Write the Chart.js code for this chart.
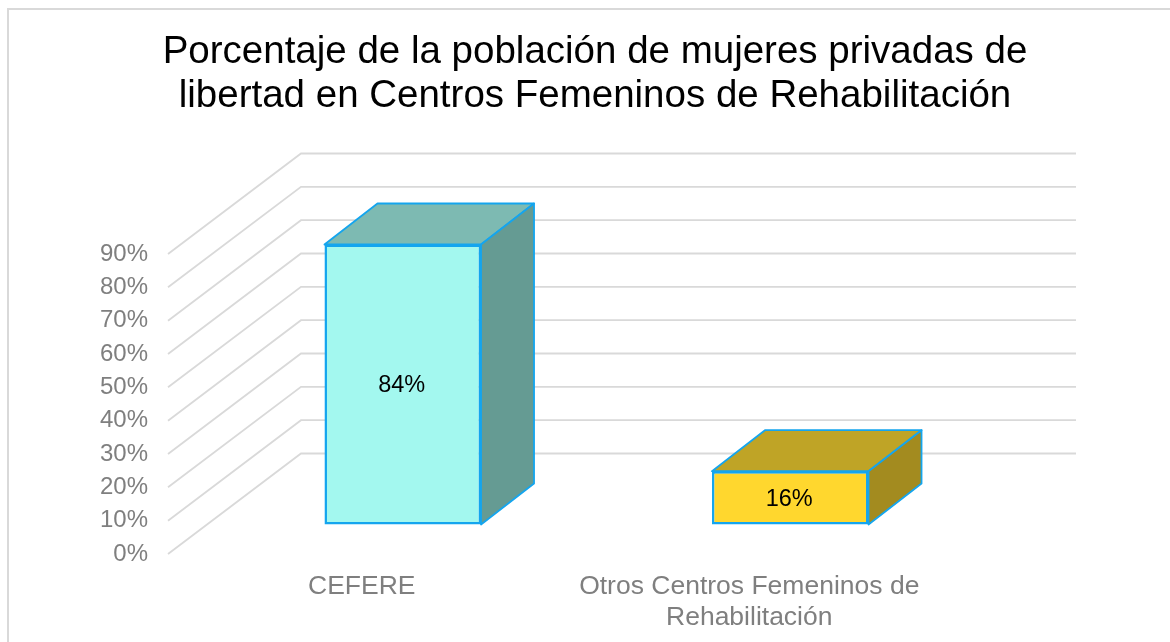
<!DOCTYPE html>
<html>
<head>
<meta charset="utf-8">
<title>Porcentaje de la población de mujeres privadas de libertad</title>
<script src="https://cdn.jsdelivr.net/npm/chart.js@4/dist/chart.umd.min.js"></script>
<style>
    html, body { margin: 0; padding: 0; background: #ffffff; overflow: hidden; }
    canvas { display: block; }
</style>
</head>
<body>
<canvas id="chart" width="1170" height="642"></canvas>
<script>
const titleLines = ["Porcentaje de la población de mujeres privadas de", "libertad en Centros Femeninos de Rehabilitación"];
const categories = ["CEFERE", ["Otros Centros Femeninos de", "Rehabilitación"]];
const values = [84, 16];
const frontColors = ["#A3F8EF", "#FFD72E"];
const topColors = ["#7DBAB2", "#BFA426"];
const sideColors = ["#659B93", "#A38B1F"];

const FONT = "'Liberation Sans', Arial, sans-serif";
const GRID = "#D9D9D9";
const EDGE = "#14A5EE";
const WALL_DX = 133;
const WALL_DY = 100.5;
const WALL_RIGHT = 1076;
const BAR_DX = 41;
const BAR_DY = 29.5;
const DEPTH_DX = 53;
const DEPTH_DY = 41;

function fillFace(ctx, points, color) {
    ctx.beginPath();
    ctx.moveTo(points[0][0], points[0][1]);
    points.slice(1).forEach(p => ctx.lineTo(p[0], p[1]));
    ctx.closePath();
    ctx.fillStyle = color;
    ctx.fill();
    ctx.strokeStyle = EDGE;
    ctx.lineWidth = 1.8;
    ctx.lineJoin = "round";
    ctx.stroke();
}

const box3d = {
    id: "box3d",
    afterLayout(chart) {
        // the title sits a bit right of the canvas centre
        chart.titleBlock.left = 20;
        chart.titleBlock.right = 1170;
    },
    beforeDraw(chart) {
        const ctx = chart.ctx;
        ctx.save();
        ctx.strokeStyle = "#D9D9D9";
        ctx.lineWidth = 2;
        ctx.beginPath();
        ctx.moveTo(8, 642);
        ctx.lineTo(8, 9);
        ctx.lineTo(1170, 9);
        ctx.stroke();
        ctx.restore();
    },
    beforeDatasetsDraw(chart) {
        const ctx = chart.ctx;
        const yScale = chart.scales.y;
        const left = chart.chartArea.left;
        ctx.save();
        ctx.strokeStyle = GRID;
        ctx.lineWidth = 1.8;
        yScale.ticks.forEach(t => {
            const y = yScale.getPixelForValue(t.value);
            ctx.beginPath();
            ctx.moveTo(left, y);
            ctx.lineTo(left + WALL_DX, y - WALL_DY);
            ctx.lineTo(WALL_RIGHT, y - WALL_DY);
            ctx.stroke();
        });
        ctx.restore();
    },
    beforeDatasetDraw(chart) {
        chart.ctx.save();
        chart.ctx.translate(BAR_DX, -BAR_DY);
    },
    afterDatasetDraw(chart, args) {
        const ctx = chart.ctx;
        args.meta.data.forEach((bar, i) => {
            const l = bar.x - bar.width / 2;
            const r = bar.x + bar.width / 2;
            fillFace(ctx, [[l, bar.y], [l + DEPTH_DX, bar.y - DEPTH_DY], [r + DEPTH_DX, bar.y - DEPTH_DY], [r, bar.y]], topColors[i]);
            fillFace(ctx, [[r, bar.y], [r + DEPTH_DX, bar.y - DEPTH_DY], [r + DEPTH_DX, bar.base - DEPTH_DY], [r, bar.base]], sideColors[i]);
            ctx.fillStyle = "#000000";
            ctx.font = "23.5px " + FONT;
            ctx.textAlign = "center";
            ctx.textBaseline = "middle";
            ctx.fillText(values[i] + "%", bar.x - 1, (bar.y + bar.base) / 2 + 1.5);
        });
        ctx.restore();
    }
};

new Chart(document.getElementById("chart"), {
    type: "bar",
    data: {
        labels: categories,
        datasets: [{
            data: values,
            backgroundColor: frontColors,
            borderColor: EDGE,
            borderWidth: 2.5,
            borderSkipped: false,
            barPercentage: 0.404,
            categoryPercentage: 1,
            clip: false
        }]
    },
    options: {
        responsive: false,
        animation: false,
        layout: { padding: { left: 0, right: 227, top: 0, bottom: 0 } },
        plugins: {
            legend: { display: false },
            tooltip: { enabled: false },
            title: {
                display: true,
                text: titleLines,
                color: "#000000",
                font: { family: FONT, size: 38.5, weight: "normal", lineHeight: 44 / 38.5 },
                padding: { top: 30, bottom: 136 }
            }
        },
        scales: {
            x: {
                grid: { display: false, drawTicks: false },
                border: { display: false },
                ticks: {
                    color: "#7F7F7F",
                    font: { family: FONT, size: 26.5, lineHeight: 31 / 26.5 },
                    padding: 17,
                    maxRotation: 0,
                    autoSkip: false
                },
                afterFit(scale) { scale.height = 88; }
            },
            y: {
                min: 0,
                max: 90,
                grid: { display: false, drawTicks: false },
                border: { display: false },
                ticks: {
                    stepSize: 10,
                    color: "#7F7F7F",
                    font: { family: FONT, size: 24 },
                    padding: 20,
                    callback: v => v + "%"
                },
                afterFit(scale) { scale.width = 168; }
            }
        }
    },
    plugins: [box3d]
});
</script>
</body>
</html>
